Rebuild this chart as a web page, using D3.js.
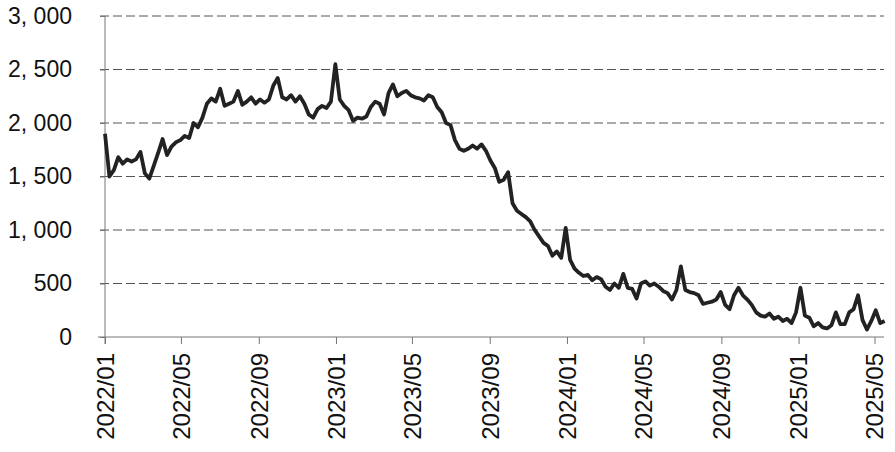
<!DOCTYPE html>
<html>
<head>
<meta charset="utf-8">
<script src="https://cdn.jsdelivr.net/npm/d3@7"></script>
<style>
  html, body { margin: 0; padding: 0; background: #fff; }
  svg { display: block; }
  text { font-family: "Liberation Sans", Arial, sans-serif; fill: #111; }
</style>
</head>
<body>
<svg id="chart" width="895" height="452"></svg>
<script>
// ---- data (weekly readings starting 2022-01-01) ----
const startDate = "2022-01-01";
const endDate = "2025-05-16";
const values = [
  1900,1500,1560,1680,1620,1660,1640,1660,1730,1530,
  1480,1600,1720,1850,1700,1780,1820,1840,1880,1860,
  2000,1960,2050,2180,2230,2200,2320,2160,2180,2200,
  2300,2170,2200,2240,2180,2220,2190,2220,2350,2420,
  2240,2220,2260,2200,2250,2180,2080,2050,2130,2160,
  2140,2200,2550,2220,2160,2120,2020,2050,2040,2060,
  2150,2200,2180,2080,2280,2360,2250,2280,2300,2260,
  2240,2230,2210,2260,2240,2150,2100,2000,1980,1840,
  1760,1740,1760,1790,1760,1800,1740,1650,1580,1450,
  1470,1540,1250,1180,1150,1120,1080,1000,940,880,
  850,760,800,740,1020,720,640,600,570,580,
  530,560,540,470,440,500,460,590,460,450,
  360,500,520,480,500,470,430,410,350,440,
  660,440,420,410,390,310,320,330,350,420,
  300,260,390,460,390,350,300,230,200,190,
  220,170,190,150,170,130,230,460,200,180,
  100,130,90,80,110,230,120,120,230,260,
  390,160,70,150,250,130,150
];
const xTickLabels = ["2022/01","2022/05","2022/09","2023/01","2023/05","2023/09",
                     "2024/01","2024/05","2024/09","2025/01","2025/05"];
const yTicks = [0, 500, 1000, 1500, 2000, 2500, 3000];

// ---- build ----
(function () {
const parse = d3.timeParse("%Y-%m-%d");
const parseTick = d3.timeParse("%Y/%m");
const t0 = parse(startDate);
const series = values.map((v, i) => ({ date: d3.timeDay.offset(t0, 7 * i), value: v }));

const svg = d3.select("#chart");
const mLeft = 105, mRight = 884, mTop = 16, mBottom = 337;

const x = d3.scaleTime().domain([t0, parse(endDate)]).range([mLeft, mRight]);
const y = d3.scaleLinear().domain([0, 3000]).range([mBottom, mTop]);

const fmt = v => d3.format(",")(v).replace(/,/g, ", ");

// gridlines
svg.append("g")
  .selectAll("line")
  .data(yTicks.filter(d => d > 0))
  .join("line")
  .attr("x1", mLeft - 5).attr("x2", mRight)
  .attr("y1", d => y(d)).attr("y2", d => y(d))
  .attr("stroke", "#555").attr("stroke-width", 1)
  .attr("stroke-dasharray", "9,4");

// y axis
const yAxis = svg.append("g")
  .attr("transform", `translate(${mLeft},0)`)
  .call(d3.axisLeft(y).tickValues(yTicks).tickFormat(fmt).tickSize(5).tickPadding(28));
yAxis.select(".domain").attr("stroke", "#777").attr("d", `M0,${mTop}V${mBottom + 7}`);
yAxis.selectAll(".tick line").attr("stroke", "#777");
yAxis.selectAll(".tick text").attr("font-size", 23).attr("fill", "#111")
  .attr("font-family", "'Liberation Sans', Arial, sans-serif");

// x axis
const xAxis = svg.append("g")
  .attr("transform", `translate(0,${mBottom})`)
  .call(d3.axisBottom(x).tickValues(xTickLabels.map(parseTick))
        .tickFormat(d3.timeFormat("%Y/%m")).tickSize(7).tickSizeOuter(0));
xAxis.select(".domain").attr("stroke", "#777").attr("d", `M${mLeft - 7},0H${mRight}`);
xAxis.selectAll(".tick line").attr("stroke", "#777");
xAxis.selectAll(".tick text")
  .attr("font-size", 24).attr("fill", "#111")
  .attr("font-family", "'Liberation Sans', Arial, sans-serif")
  .attr("transform", "rotate(-90)")
  .attr("text-anchor", "end")
  .attr("x", -16).attr("y", 0).attr("dy", "0.35em");

// line
const line = d3.line().x(d => x(d.date)).y(d => y(d.value));
svg.append("path")
  .datum(series)
  .attr("fill", "none")
  .attr("stroke", "#222")
  .attr("stroke-width", 3.8)
  .attr("stroke-linejoin", "round")
  .attr("d", line);
})();
</script>
</body>
</html>
